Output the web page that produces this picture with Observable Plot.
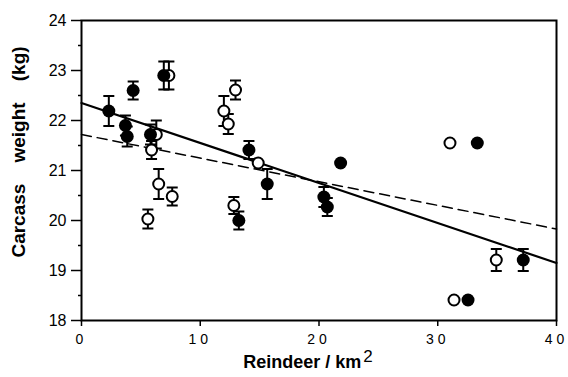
<!DOCTYPE html>
<html>
<head>
<meta charset="utf-8">
<script src="https://cdn.jsdelivr.net/npm/d3@7"></script>
<script src="https://cdn.jsdelivr.net/npm/@observablehq/plot@0.6"></script>
<style>
  html, body { margin: 0; padding: 0; background: #fff; }
  #chart svg { display: block; }
  #chart [aria-label="x-axis tick label"] text { letter-spacing: 4px; }
</style>
</head>
<body>
<div id="chart"></div>
<script>
// Filled circles
const filledX   = [2.3, 4.35, 6.93, 3.7, 3.85, 5.81, 14.1, 15.64, 21.82, 20.41, 20.7, 13.25, 33.33, 37.2, 32.55];
const filledY   = [22.19, 22.6, 22.9, 21.9, 21.68, 21.72, 21.41, 20.73, 21.15, 20.47, 20.27, 20.0, 21.55, 19.21, 18.41];
const filledErr = [0.3, 0.18, 0.28, 0.2, 0.2, 0.2, 0.18, 0.3, 0, 0.2, 0.18, 0.18, 0, 0.22, 0];
// Open circles
const openX   = [7.36, 6.3, 5.9, 6.5, 7.64, 5.59, 12.97, 11.99, 12.36, 14.88, 12.83, 31.03, 34.93, 31.37];
const openY   = [22.9, 21.72, 21.41, 20.73, 20.48, 20.03, 22.61, 22.19, 21.93, 21.15, 20.3, 21.55, 19.21, 18.41];
const openErr = [0.28, 0.28, 0.18, 0.3, 0.18, 0.19, 0.19, 0.3, 0.2, 0, 0.17, 0, 0.22, 0];
// Regression lines (end points)
const solidLineX = [0, 40];
const solidLineY = [22.35, 19.15];
const dashedLineX = [0, 40];
const dashedLineY = [21.72, 19.83];
// Ticks
const xTicks = [0, 10, 20, 30, 40];
const yTicks = [18, 19, 20, 21, 22, 23, 24];
const yMinorTicks = [18.5, 19.5, 20.5, 21.5, 22.5, 23.5];
const xTitle = "Reindeer / km";
const xTitleSup = "2";
const yTitle = "Carcass    weight    (kg)";

const filled = filledX.map((x, i) => ({x, y: filledY[i], e: filledErr[i]}));
const open = openX.map((x, i) => ({x, y: openY[i], e: openErr[i]}));
const errs = [...filled, ...open].filter(d => d.e > 0);
const solid = solidLineX.map((x, i) => ({x, y: solidLineY[i]}));
const dashed = dashedLineX.map((x, i) => ({x, y: dashedLineY[i]}));

const capSymbol = {
  draw(ctx, size) {
    const r = Math.sqrt(size / Math.PI);
    ctx.moveTo(-r, 0);
    ctx.lineTo(r, 0);
  }
};

const plot = Plot.plot({
  width: 568,
  height: 377,
  marginLeft: 81,
  marginRight: 12,
  marginTop: 20,
  marginBottom: 57,
  style: {fontFamily: "'Liberation Sans', Arial, Helvetica, sans-serif", color: "black", background: "white"},
  x: {domain: [0, 40]},
  y: {domain: [18, 24]},
  marks: [
    Plot.axisY({ticks: yTicks, tickSize: 10, tickPadding: 5, fontSize: 16, tickFormat: d3.format("d"), label: null, strokeWidth: 1.5}),
    Plot.axisY({ticks: yMinorTicks, tickSize: 3, tickFormat: () => "", label: null, strokeWidth: 1.5}),
    Plot.axisX({ticks: xTicks, tickSize: 6, tickPadding: 8, fontSize: 14, tickFormat: d3.format("d"), label: null, strokeWidth: 1.5}),
    Plot.frame({stroke: "black", strokeWidth: 2}),
    Plot.line(dashed, {x: "x", y: "y", stroke: "black", strokeWidth: 1.5, strokeDasharray: "10,6"}),
    Plot.line(solid, {x: "x", y: "y", stroke: "black", strokeWidth: 2.2}),
    Plot.ruleX(errs, {x: "x", y1: d => d.y - d.e, y2: d => d.y + d.e, stroke: "black", strokeWidth: 2}),
    Plot.dot(errs, {x: "x", y: d => d.y + d.e, symbol: capSymbol, r: 5.5, stroke: "black", strokeWidth: 2, fill: "none"}),
    Plot.dot(errs, {x: "x", y: d => d.y - d.e, symbol: capSymbol, r: 5.5, stroke: "black", strokeWidth: 2, fill: "none"}),
    Plot.dot(open, {x: "x", y: "y", r: 5.5, stroke: "black", strokeWidth: 2, fill: "white"}),
    Plot.dot(filled, {x: "x", y: "y", r: 6.5, fill: "black", stroke: "none"})
  ]
});

const svg = d3.select(plot);
const xt = svg.append("text")
  .attr("x", 308).attr("y", 368)
  .attr("text-anchor", "middle")
  .attr("font-family", "'Liberation Sans', Arial, Helvetica, sans-serif")
  .attr("font-size", 18).attr("font-weight", "bold").attr("fill", "black");
xt.append("tspan").text(xTitle);
xt.append("tspan").attr("dx", 2).attr("dy", -6).attr("font-weight", "normal").attr("font-size", 17).text(xTitleSup);

svg.append("text")
  .attr("transform", "translate(25,152) rotate(-90)")
  .attr("text-anchor", "middle")
  .attr("font-family", "'Liberation Sans', Arial, Helvetica, sans-serif")
  .attr("font-size", 19).attr("font-weight", "bold").attr("fill", "black")
  .attr("xml:space", "preserve")
  .style("white-space", "pre")
  .text(yTitle);

document.getElementById("chart").appendChild(plot);
</script>
</body>
</html>
